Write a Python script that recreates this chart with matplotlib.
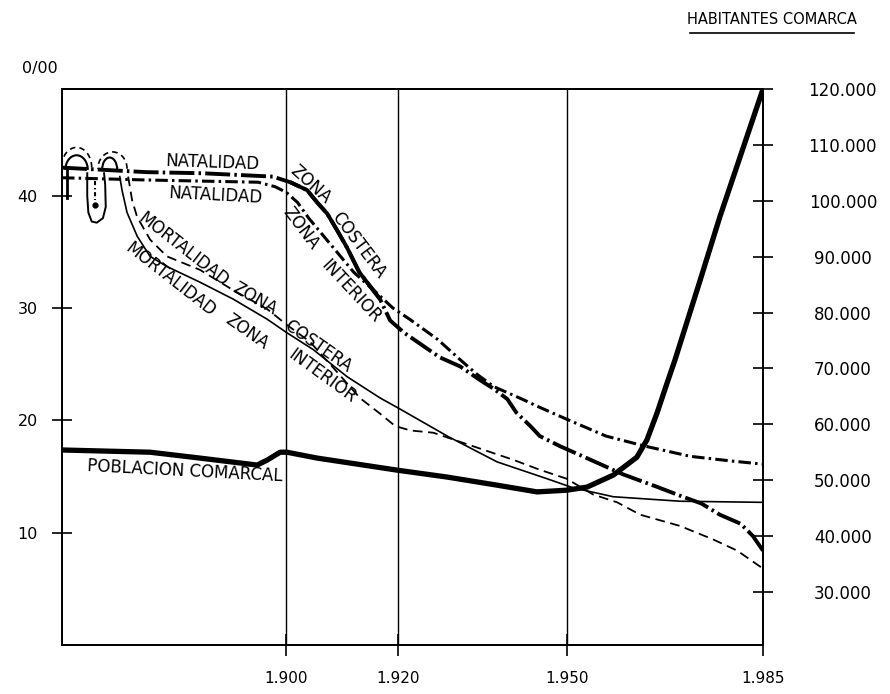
import matplotlib
matplotlib.use("Agg")
import matplotlib.pyplot as plt
from matplotlib.patches import Arc

plt.rcParams['font.family'] = ['DejaVu Sans']
plt.rcParams['lines.scale_dashes'] = False

# ---------------- data ----------------
nat_costera_years = [1860, 1875, 1885, 1897.6, 1900.7, 1903.7, 1905.5, 1907.3, 1909.2, 1910.8,
                     1913.0, 1916.7, 1918.5, 1921.0, 1927.4, 1931.0, 1934.5, 1937.0, 1939.4,
                     1941.0, 1943.5, 1945.2, 1948.8, 1956.0, 1960.0, 1966.0, 1970.7, 1974.0,
                     1977.3, 1981.0, 1983.2, 1985.0]
nat_costera_vals = [42.5, 42.1, 42.0, 41.7, 41.2, 40.5, 39.4, 38.4, 36.8, 35.4,
                    33.2, 30.8, 28.9, 27.8, 25.6, 24.8, 23.6, 22.8, 21.9,
                    20.7, 19.5, 18.6, 17.7, 16.1, 15.2, 14.1, 13.2, 12.6,
                    11.6, 10.8, 9.7, 8.4]

nat_interior_years = [1860, 1875, 1895, 1898, 1900, 1902, 1904, 1906, 1909, 1912, 1916, 1919,
                      1922, 1927, 1931, 1934, 1937, 1942, 1945, 1950, 1957, 1964, 1972, 1979, 1985]
nat_interior_vals = [41.6, 41.4, 41.2, 40.8, 40.3, 39.4, 38.0, 36.8, 35.0, 33.2, 31.4, 30.0,
                     29.0, 27.2, 25.4, 24.1, 23.0, 21.9, 21.2, 20.1, 18.6, 17.7, 16.8, 16.4, 16.1]

mort_costera_years = [1871.8, 1872.5, 1873.4, 1875.7, 1878.7, 1884.6, 1890.5, 1896.6, 1900.1,
                      1904.2, 1908.7, 1913.1, 1916.7, 1919.4, 1922.1, 1926.2, 1931.5, 1940.4,
                      1945.2, 1950.0, 1954.7, 1959.0, 1963.1, 1970.2, 1976.1, 1980.4, 1985.0]
mort_costera_vals = [41.7, 39.6, 38.1, 36.1, 34.6, 33.4, 31.6, 29.9, 28.5,
                     27.0, 24.5, 22.0, 20.6, 19.5, 19.1, 18.9, 18.0, 16.5,
                     15.6, 14.8, 13.4, 12.7, 11.6, 10.6, 9.4, 8.4, 6.8]

mort_interior_years = [1870.3, 1870.7, 1871.6, 1873.4, 1875.7, 1878.7, 1884.6, 1890.5, 1896.6,
                       1900.1, 1904.8, 1910.8, 1916.7, 1920.3, 1928.7, 1937.6, 1946.5, 1951.1,
                       1958.3, 1970.2, 1985.0]
mort_interior_vals = [41.7, 40.5, 38.5, 36.4, 34.6, 33.7, 32.3, 30.8, 29.0,
                      27.8, 26.3, 23.9, 22.0, 21.0, 18.6, 16.3, 14.8, 14.0,
                      13.2, 12.8, 12.7]

pob_years = [1860, 1875.7, 1884.6, 1894.8, 1896.6, 1898.9, 1900.1, 1905.5, 1919.7, 1928.7,
             1937.6, 1944.7, 1950.0, 1953.6, 1958.3, 1962.5, 1964.3, 1966.1, 1967.9, 1969.3,
             1973.8, 1977.3, 1980.9, 1985.0]
pob_vals = [55400, 55000, 53950, 52700, 53600, 55000, 55000, 53950, 51800, 50550,
            49100, 47900, 48200, 48750, 50900, 54100, 57200, 62000, 67400, 71500,
            85800, 97100, 107800, 120000]

# decorative loops near the start (year centre, value base, half-width years, height)
arch_solid = [(1862.6, 42.3, 2.0, 1.3), (1868.5, 42.3, 1.35, 1.1)]
arch_dashed = [(1862.6, 42.5, 2.7, 1.8), (1869.0, 42.4, 2.6, 1.5)]
u_loop_years = [1864.5, 1864.5, 1864.7, 1865.3, 1866.2, 1867.3, 1867.8, 1867.7, 1867.5]
u_loop_vals = [42.0, 40.0, 38.5, 37.7, 37.6, 38.0, 39.0, 41.0, 42.0]

x_ticks = [1900, 1920, 1950, 1985]
x_labels = ['1.900', '1.920', '1.950', '1.985']
grid_years = [1900, 1920, 1950]
left_ticks = [10, 20, 30, 40]
right_ticks = [30000, 40000, 50000, 60000, 70000, 80000, 90000, 100000, 110000, 120000]
right_labels = ['30.000', '40.000', '50.000', '60.000', '70.000', '80.000',
                '90.000', '100.000', '110.000', '120.000']

# ---------------- figure ----------------
W, H = 890, 694
fig = plt.figure(figsize=(W / 100, H / 100), dpi=100)
ax = fig.add_axes([62 / W, 1 - 645 / H, 701 / W, 556 / H])
ax.set_xlim(1860, 1985)
ax.set_ylim(0, 49.5)
ax2 = ax.twinx()
ax2.set_ylim(20500, 120000)

for a in (ax, ax2):
    for s in a.spines.values():
        s.set_linewidth(1.3)
        s.set_color('black')

for g in grid_years:
    ax.axvline(g, color='black', lw=1.0, zorder=1)

ax.set_xticks(x_ticks)
ax.set_xticklabels(x_labels)
ax.tick_params(axis='x', direction='inout', length=16, width=1.2, pad=11, labelsize=11)
ax.set_yticks(left_ticks)
ax.set_yticklabels([str(v) for v in left_ticks])
ax.tick_params(axis='y', direction='inout', length=15, width=1.2, pad=10, labelsize=11.5)

ax2.set_yticks(right_ticks)
ax2.set_yticklabels(right_labels)
ax2.tick_params(axis='y', direction='inout', length=15, width=1.2, pad=50, labelsize=12)
for lab in ax2.get_yticklabels():
    lab.set_horizontalalignment('center')

# curves
ax.plot(nat_costera_years, nat_costera_vals, color='black', lw=2.8,
        dashes=(18, 3, 1.8, 3), solid_capstyle='butt', zorder=4)
# the "ZONA COSTERA" stretch is drawn solid in the original
ax.plot(nat_costera_years[4:12], nat_costera_vals[4:12], color='black', lw=2.8,
        solid_capstyle='butt', zorder=4)
ax.plot(nat_interior_years, nat_interior_vals, color='black', lw=2.2,
        dashes=(9, 3, 1.8, 3), zorder=4)
ax.plot(mort_costera_years, mort_costera_vals, color='black', lw=1.3,
        dashes=(7, 4), zorder=3)
ax.plot(mort_interior_years, mort_interior_vals, color='black', lw=1.2, zorder=3)
ax2.plot(pob_years, pob_vals, color='black', lw=3.8, solid_capstyle='round',
         solid_joinstyle='round', zorder=5)

# loops
for cx, cy, rx, ry in arch_solid:
    ax.add_patch(Arc((cx, cy), 2 * rx, 2 * ry, theta1=0, theta2=180, color='black', lw=1.5))
for cx, cy, rx, ry in arch_dashed:
    ax.add_patch(Arc((cx, cy), 2 * rx, 2 * ry, theta1=0, theta2=180, color='black', lw=1.2,
                     linestyle=(0, (4, 3))))
ax.plot(u_loop_years, u_loop_vals, color='black', lw=1.4)
ax.plot([1865.9, 1865.9], [41.3, 39.6], color='black', lw=1.5, dashes=(3, 2, 1, 2))
ax.plot([1865.9], [39.2], marker='o', ms=3.5, color='black')
ax.plot([1860.9, 1860.9], [42.3, 39.8], color='black', lw=2.0)

# labels along curves
fs = 12
def lab(x, y, s, rot):
    ax.text(x, y, s, rotation=rot, rotation_mode='anchor', ha='center', va='center',
            fontsize=fs, color='black', zorder=6)

lab(1886.9, 42.9, 'NATALIDAD', -2)
lab(1904.4, 41.0, 'ZONA', -42)
lab(1912.8, 35.6, 'COSTERA', -53)
lab(1887.3, 40.0, 'NATALIDAD', -3)
lab(1902.6, 37.1, 'ZONA', -53)
lab(1911.5, 31.5, 'INTERIOR', -47)
lab(1881.6, 35.2, 'MORTALIDAD', -38)
lab(1894.4, 30.8, 'ZONA', -30)
lab(1905.6, 26.6, 'COSTERA', -35)
lab(1879.3, 32.5, 'MORTALIDAD', -38)
lab(1893.0, 27.9, 'ZONA', -35)
lab(1906.4, 23.9, 'INTERIOR', -36)
lab(1881.9, 15.5, 'POBLACION COMARCAL', -3)

fig.text(40 / W, 1 - 69 / H, '0/00', ha='center', va='center', fontsize=11.5)
fig.text(772 / W, 1 - 20 / H, 'HABITANTES COMARCA', ha='center', va='center', fontsize=10.5)
fig.add_artist(plt.Line2D([690 / W, 854 / W], [1 - 33 / H, 1 - 33 / H], color='black', lw=1.2))

fig.savefig('out.png', dpi=100)
